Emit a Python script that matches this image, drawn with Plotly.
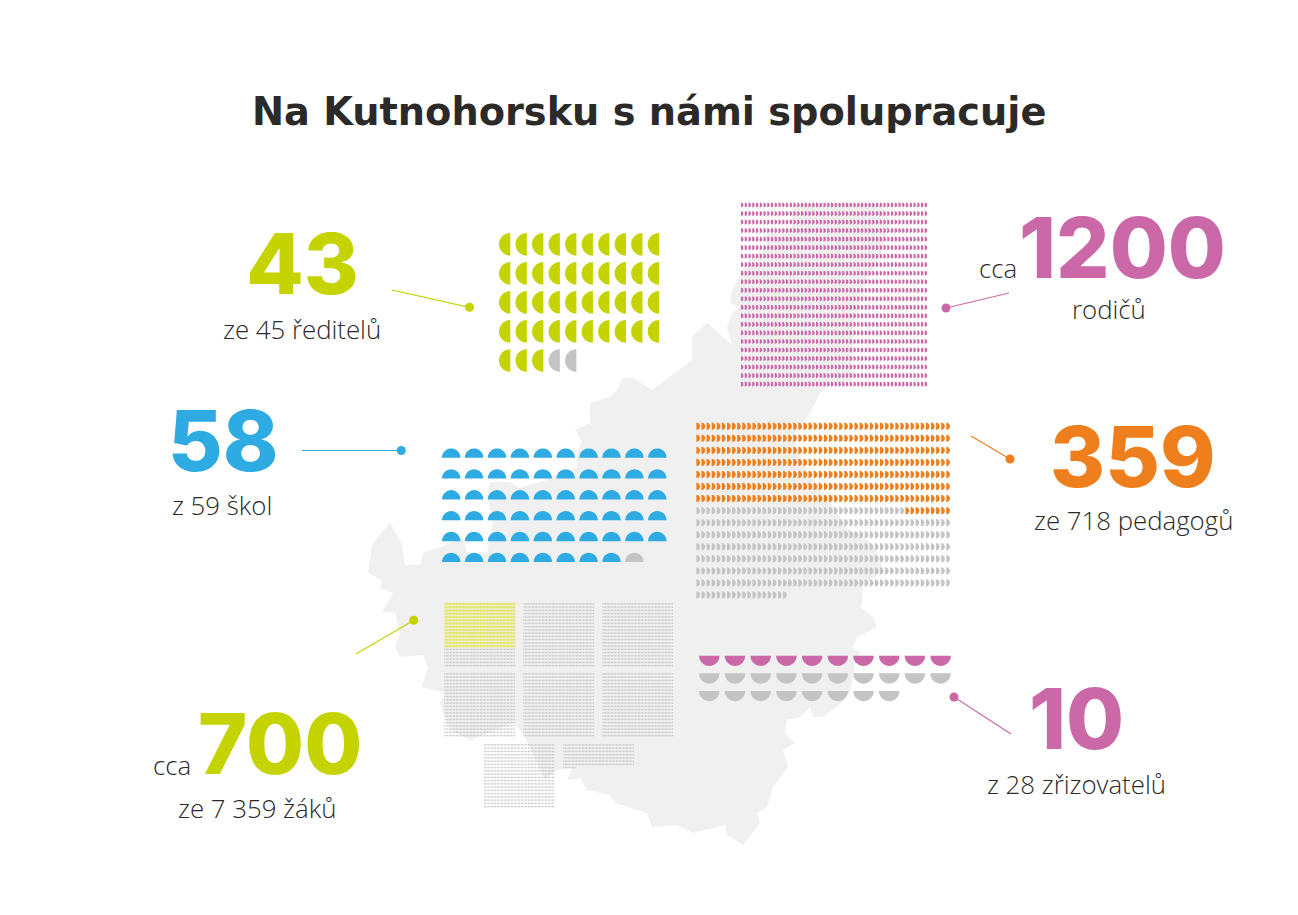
import numpy as np
import plotly.graph_objects as go

GREEN = "#c5d300"
BLUE = "#2fabe3"
PINK = "#cb69a8"
ORANGE = "#ee7f1c"
GREY = "#c4c4c4"
DARK = "#2b2a29"
MAP_GREY = "#f0f0f0"

TITLE = "Na Kutnohorsku s námi spolupracuje"

# values
reditele_yes, reditele_total = 43, 45
skoly_yes, skoly_total = 58, 59
rodice_drawn = 1100  # the grid as drawn, 22 rows of 50; the label says cca 1200
pedagogove_yes, pedagogove_total = 359, 718
zrizovatele_yes, zrizovatele_total = 10, 28
zaci_yes, zaci_total = 700, 7359
zaci_block = 1000

# district outline behind the marks
map_x = [732, 745, 768, 765, 792, 792, 835, 882, 890, 880, 862, 853, 853, 830, 820, 810, 795, 797,
         817, 830, 847, 870, 880, 883, 863, 862, 860, 873, 877, 857, 852, 860, 855, 850, 837, 823,
         813, 810, 800, 787, 785, 795, 783, 788, 773, 767, 757, 760, 743, 727, 725, 693, 677, 652,
         647, 615, 610, 587, 580, 567, 573, 557, 545, 523, 513, 470, 450, 440, 445, 422, 428, 423,
         400, 395, 400, 395, 382, 393, 380, 382, 368, 372, 390, 402, 405, 420, 423, 440, 463, 467,
         487, 493, 487, 490, 510, 520, 547, 560, 577, 577, 582, 575, 590, 590, 610, 617, 623, 633,
         652, 692, 692, 707, 723, 732, 727, 732, 740, 730]
map_y = [290, 265, 245, 235, 228, 205, 203, 205, 225, 255, 290, 325, 380, 385, 393, 413, 433, 450,
         488, 502, 528, 542, 558, 572, 585, 605, 607, 617, 627, 637, 648, 652, 665, 693, 707, 717,
         717, 707, 717, 720, 733, 743, 750, 767, 787, 807, 813, 823, 845, 835, 825, 833, 825, 827,
         813, 803, 795, 790, 778, 780, 767, 770, 780, 733, 723, 740, 730, 703, 693, 687, 667, 655,
         657, 647, 633, 613, 612, 593, 588, 580, 573, 545, 522, 545, 565, 565, 553, 547, 538, 553,
         553, 520, 497, 482, 482, 488, 480, 473, 468, 453, 442, 430, 423, 403, 397, 390, 378, 378,
         390, 360, 337, 323, 337, 345, 327, 313, 307, 303]


def half_discs(cx, cy, r, side, steps=11):
    # one polygon per person, separated by None so a single trace holds them all
    start = {"left": 90, "right": -90, "up": 0, "down": 180}[side]
    t = np.radians(np.linspace(start, start + 180, steps))
    xs, ys = [], []
    for px, py in zip(cx, cy):
        xs += list(px + r * np.cos(t)) + [None]
        ys += list(py - r * np.sin(t)) + [None]
    return xs, ys


def grid(count, cols, x0, y0, dx, dy):
    idx = np.arange(count)
    return x0 + (idx % cols) * dx, y0 + (idx // cols) * dy


def add_marks(fig, cx, cy, r, side, color, steps=11):
    xs, ys = half_discs(cx, cy, r, side, steps)
    fig.add_scatter(x=xs, y=ys, mode="lines", fill="toself", fillcolor=color,
                    line=dict(width=0, color=color), hoverinfo="skip")


def add_text(fig, x, y, text, size, color=DARK, family="Open Sans", weight=300):
    fig.add_annotation(x=x, y=y, text=text, showarrow=False, xanchor="center", yanchor="middle",
                       font=dict(family=family, size=size, color=color, weight=weight))


def add_number(fig, x, y, text, color):
    add_text(fig, x, y, text, 84, color, "Inter", 800)


def add_callout(fig, x0, y0, x1, y1, color):
    fig.add_scatter(x=[x0, x1], y=[y0, y1], mode="lines", line=dict(color=color, width=1.2),
                    hoverinfo="skip")
    fig.add_scatter(x=[x1], y=[y1], mode="markers", marker=dict(color=color, size=9),
                    hoverinfo="skip")


def split_marks(cx, cy, yes):
    return cx[:yes], cy[:yes], cx[yes:], cy[yes:]


fig = go.Figure()

fig.add_scatter(x=map_x, y=map_y, mode="lines", fill="toself", fillcolor=MAP_GREY,
                line=dict(width=0, color=MAP_GREY), hoverinfo="skip")

# reditele
cx, cy = grid(reditele_total, 10, 510.3, 244.3, 16.52, 29.05)
a, b, c, d = split_marks(cx, cy, reditele_yes)
add_marks(fig, a, b, 11.4, "left", GREEN)
add_marks(fig, c, d, 11.4, "left", GREY)

# skoly
cx, cy = grid(skoly_total, 10, 451.2, 457.7, 22.9, 20.86)
a, b, c, d = split_marks(cx, cy, skoly_yes)
add_marks(fig, a, b, 9.3, "up", BLUE)
add_marks(fig, c, d, 9.3, "up", GREY)

# rodice
cx, cy = grid(rodice_drawn, 50, 741, 205, 3.75, 8.53)
add_marks(fig, cx, cy, 2.6, "right", PINK)

# pedagogove: the row that is only partly done fills from the right
ped_cols = 50
cx, cy = grid(pedagogove_total, ped_cols, 696.4, 426.3, 5.1, 12.05)
done_rows, rest = divmod(pedagogove_yes, ped_cols)
row = (np.arange(pedagogove_total) // ped_cols)
col = (np.arange(pedagogove_total) % ped_cols)
is_done = (row < done_rows) | ((row == done_rows) & (col >= ped_cols - rest))
add_marks(fig, cx[is_done], cy[is_done], 3.7, "right", ORANGE)
add_marks(fig, cx[~is_done], cy[~is_done], 3.7, "right", GREY)

# zrizovatele
cx, cy = grid(zrizovatele_total, 10, 709.3, 655.7, 25.7, 17.65)
a, b, c, d = split_marks(cx, cy, zrizovatele_yes)
add_marks(fig, a, b, 10.3, "down", PINK)
add_marks(fig, c, d, 10.3, "down", GREY)

# zaci: blocks of 1000, three per row, last row centred
block_x = [444.5, 523.5, 602.5, 444.5, 523.5, 602.5, 484, 563.5]
block_y = [604, 604, 604, 674, 674, 674, 745, 745]
zak_x, zak_y = [], []
left = zaci_total
for bx, by in zip(block_x, block_y):
    gx, gy = grid(min(left, zaci_block), 50, bx, by, 1.42, 3.25)
    zak_x.append(gx)
    zak_y.append(gy)
    left -= zaci_block
zak_x = np.concatenate(zak_x)
zak_y = np.concatenate(zak_y)
add_marks(fig, zak_x[zaci_yes:], zak_y[zaci_yes:], 0.9, "right", "#bdbdbd", steps=5)
add_marks(fig, zak_x[:zaci_yes], zak_y[:zaci_yes], 1.45, "right", "#e4e76c", steps=5)

add_callout(fig, 392, 290, 469.5, 307.3, GREEN)
add_callout(fig, 302, 450.5, 401.3, 450.5, BLUE)
add_callout(fig, 1009, 293, 946, 308, PINK)
add_callout(fig, 971, 436, 1010, 459, ORANGE)
add_callout(fig, 356, 654, 413.7, 620.3, GREEN)
add_callout(fig, 1011, 734, 954, 697, PINK)

add_text(fig, 648.5, 111, TITLE, 38.3, family="DejaVu Sans", weight=700)

add_number(fig, 302, 263, str(reditele_yes), GREEN)
add_text(fig, 302, 329, "ze 45 ředitelů", 25.8)
add_number(fig, 223, 440, str(skoly_yes), BLUE)
add_text(fig, 222, 505, "z 59 škol", 25.8)
add_number(fig, 1122, 247, "1200", PINK)
add_text(fig, 998, 268, "cca", 25.8)
add_text(fig, 1109, 309, "rodičů", 25.8)
add_number(fig, 1133, 456, str(pedagogove_yes), ORANGE)
add_text(fig, 1133, 520, "ze 718 pedagogů", 25.8)
add_number(fig, 280, 743, str(zaci_yes), GREEN)
add_text(fig, 172, 765, "cca", 25.8)
add_text(fig, 257, 808, "ze 7 359 žáků", 25.8)
add_number(fig, 1076, 718, str(zrizovatele_yes), PINK)
add_text(fig, 1076, 784, "z 28 zřizovatelů", 25.8)

fig.update_layout(width=1298, height=915, autosize=False, showlegend=False,
                  margin=dict(l=0, r=0, t=0, b=0), paper_bgcolor="white", plot_bgcolor="white",
                  xaxis=dict(range=[0, 1298], visible=False, fixedrange=True),
                  yaxis=dict(range=[915, 0], visible=False, fixedrange=True))

fig.write_html("out.html", config={"displayModeBar": False},
               post_script="document.body.style.margin='0';")
